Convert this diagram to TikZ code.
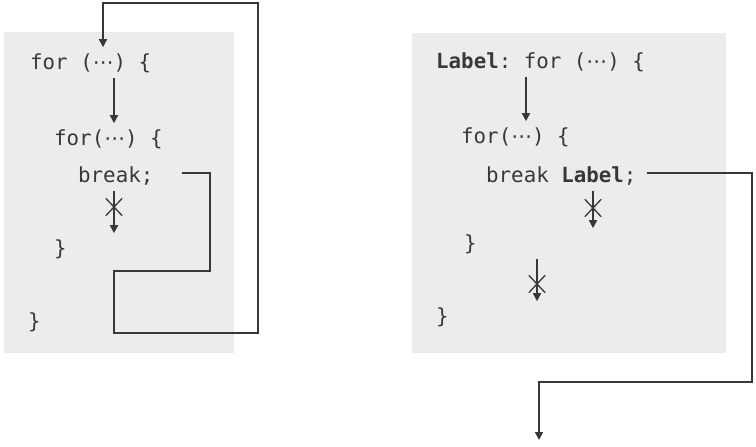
\documentclass[tikz,border=0pt]{standalone}
\usepackage{fontspec}
\setmonofont{DejaVu Sans Mono}
\newfontfamily\symfont{DejaVu Sans}
\usetikzlibrary{arrows.meta,shapes.misc}
\definecolor{codebg}{gray}{0.925}
\definecolor{flowline}{gray}{0.22}
\newcommand{\dotsmid}{{\symfont ⋯}}

\begin{document}
\begin{tikzpicture}[x=1pt,y=-1pt,
    code/.style={anchor=base west,inner sep=0pt,outer ysep=6pt,font=\fontsize{20.8}{24}\ttfamily,text=black!78},
    flow/.style={draw=flowline,line width=1.6pt,-{Triangle[width=8pt,length=8pt]}},
    stopmark/.style={cross out,draw=flowline,line width=1.3pt,minimum width=15pt,minimum height=16pt,inner sep=0pt}]

    \useasboundingbox (0,0) rectangle (756,447);

    % code panels
    \fill[codebg] (4,32) rectangle (234,353);
    \fill[codebg] (412,33) rectangle (726,353);

    % left: plain break
    % nodes
    \node[code] (forA) at (30,69) {for (\dotsmid) \{};
    \node[code] (forB) at (54,145) {for(\dotsmid) \{};
    \node[code] (brkA) at (78,182) {break;};
    \node[code] (closeB) at (54,255) {\}};
    \node[code] (closeA) at (28,328) {\}};
    \coordinate (jumpA) at (182,173);
    \node[stopmark] (stopA) at (114,207) {};

    % paths
    \draw[flow] (114,0 |- forA.south) to (114,0 |- forB.north); % forA -> forB
    \draw[flow] (114,0 |- brkA.south) to (114,0 |- closeB.north); % break -/-> }
    \draw[flow] (jumpA) -- (210,173) -- (210,271) -- (114,271) -- (114,333)
        -- (258,333) -- (258,3) -- (103,3) -- (103,0 |- forA.north); % break -> forA

    % right: labelled break
    % nodes
    \node[code] (forR) at (436,68) {\textbf{Label}: for (\dotsmid) \{};
    \node[code] (forRB) at (461,143) {for(\dotsmid) \{};
    \node[code] (brkR) at (486,182) {break \textbf{Label};};
    \node[code] (closeRB) at (464,250) {\}};
    \node[code] (closeRA) at (436,323) {\}};
    \coordinate (jumpR) at (647,173);
    \coordinate (exitR) at (539,440);
    \node[stopmark] (stopR) at (593,208) {};
    \node[stopmark] (stopRB) at (537,284) {};

    % paths
    \draw[flow] (526,0 |- forR.south) to (526,0 |- forRB.north); % forR -> forRB
    \draw[flow] (593,0 |- brkR.south) to (593,0 |- closeRB.north); % break -/-> }
    \draw[flow] (537,0 |- closeRB.south) to (537,0 |- closeRA.north); % } -/-> }
    \draw[flow] (jumpR) -- (752,173) -- (752,382) -- (539,382) -- (exitR); % break Label -> out

\end{tikzpicture}
\end{document}
